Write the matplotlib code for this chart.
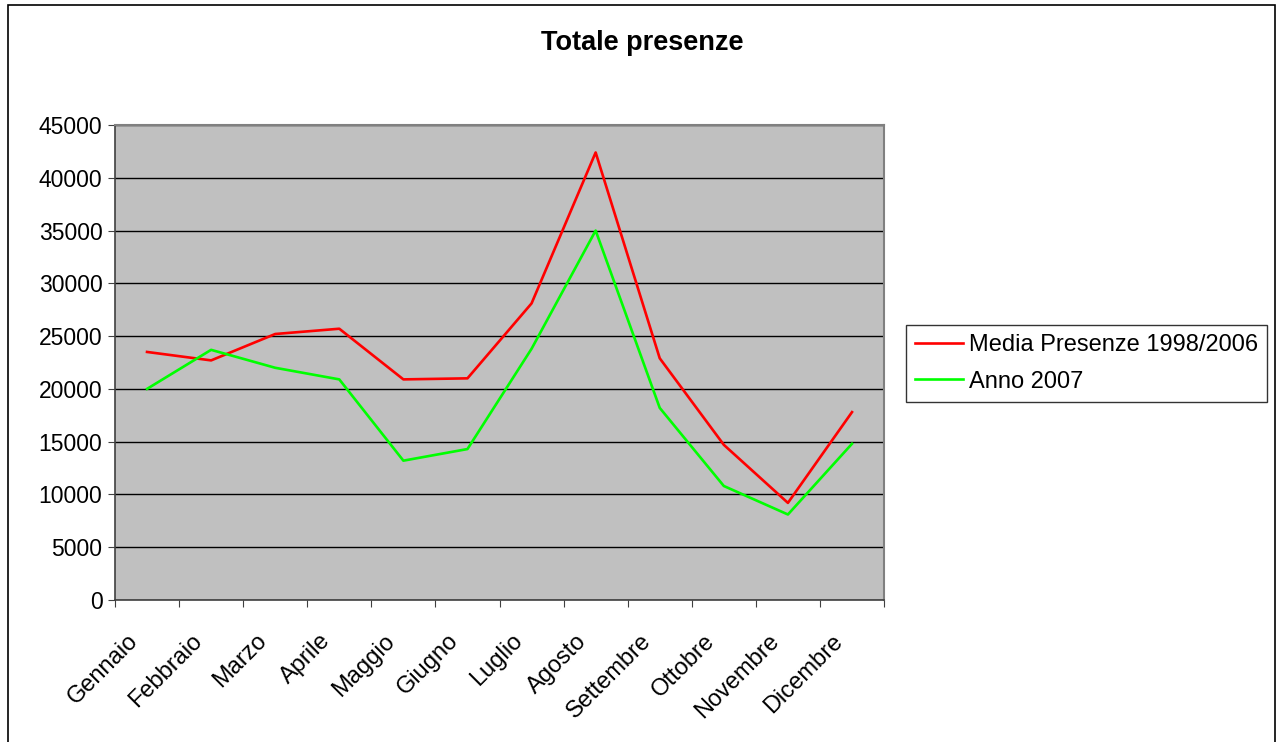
import matplotlib
matplotlib.use("Agg")
import matplotlib.pyplot as plt
import matplotlib.transforms as mtransforms
from matplotlib.patches import Rectangle
import numpy as np

mesi = ["Gennaio", "Febbraio", "Marzo", "Aprile", "Maggio", "Giugno",
        "Luglio", "Agosto", "Settembre", "Ottobre", "Novembre", "Dicembre"]
media_1998_2006 = [23500, 22700, 25200, 25700, 20900, 21000,
                   28100, 42400, 22900, 14700, 9200, 17800]
anno_2007 = [20000, 23700, 22000, 20900, 13200, 14300,
             23800, 35000, 18200, 10800, 8100, 14800]

plt.rcParams["font.family"] = ["Liberation Sans", "DejaVu Sans"]

fig = plt.figure(figsize=(12.79, 7.42), dpi=100)
ax = fig.add_axes([0.0899, 0.1914, 0.6013, 0.6401])
ax.set_facecolor("#C0C0C0")

x = np.arange(len(mesi))
ax.plot(x, media_1998_2006, color="#FF0000", lw=1.9, label="Media Presenze 1998/2006")
ax.plot(x, anno_2007, color="#00FF00", lw=1.9, label="Anno 2007")

ax.set_xlim(-0.5, len(mesi) - 0.5)
ax.set_ylim(0, 45000)
ax.set_yticks(np.arange(0, 45001, 5000))
ax.yaxis.grid(True, color="black", lw=1)
ax.set_axisbelow(True)

# ticks between categories, labels drawn at category centres
ax.set_xticks(np.arange(-0.5, len(mesi)))
ax.set_xticklabels([])
trans = ax.get_xaxis_transform() + mtransforms.ScaledTranslation(-0.20, -0.30, fig.dpi_scale_trans)
for i, m in enumerate(mesi):
    ax.text(x[i], 0, m, transform=trans, rotation=45, ha="right", va="top",
            rotation_mode="anchor", fontsize=17)

ax.tick_params(axis="x", length=5, direction="out", color="#404040")
ax.tick_params(axis="y", length=5, direction="out", labelsize=16.5, pad=4, color="#404040")

for s in ["top", "right"]:
    ax.spines[s].set_color("#808080")
    ax.spines[s].set_linewidth(1.5)
for s in ["left", "bottom"]:
    ax.spines[s].set_color("#404040")
    ax.spines[s].set_linewidth(1.2)

fig.text(0.5024, 0.942, "Totale presenze", ha="center", va="center",
         fontsize=19.5, fontweight="bold")

leg = fig.legend(loc="upper left", bbox_to_anchor=(0.7084, 0.562), fontsize=17,
                 frameon=True, fancybox=False, borderpad=0.4, handlelength=2.0,
                 handletextpad=0.25, labelspacing=0.6, borderaxespad=0)
leg.get_frame().set_edgecolor("black")
leg.get_frame().set_linewidth(1)

fig.patches.append(Rectangle((0.006, -0.01), 0.991, 1.003, transform=fig.transFigure,
                             fill=False, edgecolor="black", lw=1.2))

fig.savefig("out.png", dpi=100)
